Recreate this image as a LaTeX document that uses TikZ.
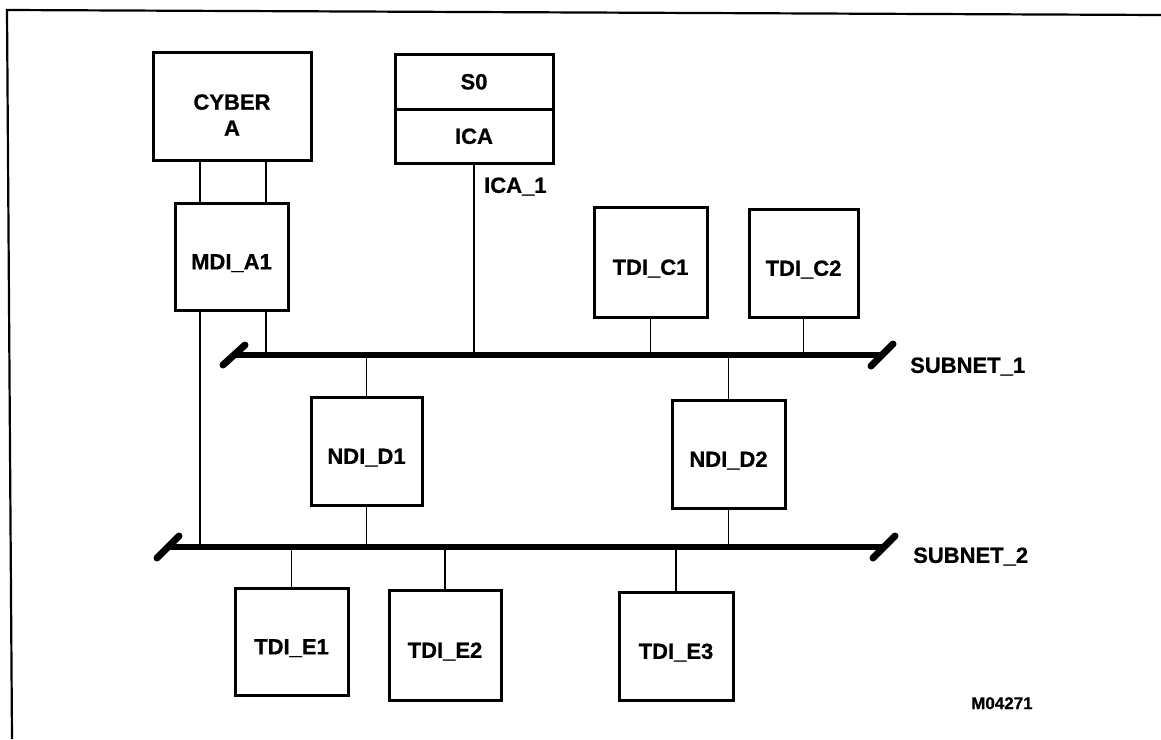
\documentclass[tikz,border=0pt]{standalone}
\usepackage{fontspec}
\setmainfont{Liberation Sans}[BoldFeatures={FakeBold=0.8}]
\usetikzlibrary{calc}
\begin{document}
\begin{tikzpicture}[x=1pt,y=-1pt,
  lbl/.style={font=\fontsize{22}{26}\selectfont\bfseries, inner sep=0pt},
  sidelbl/.style={lbl, anchor=west, text height=15.7pt, text depth=0pt},
  box/.style={draw, line width=3pt, inner sep=0pt, font=\fontsize{22}{26}\selectfont\bfseries, text height=25.7pt, text depth=0pt},
  wire/.style={line width=1.8pt},
  bus/.style={line width=5.5pt},
  slash/.style={line width=7pt, line cap=round},
  frame/.style={line width=2.2pt}]
\useasboundingbox (0,0) rectangle (1161,739);

% frame
\coordinate (fTL) at (7,10);
\coordinate (fTR) at (1161,15);
\coordinate (fBL) at (12,739);
\draw[frame] (fTR) -- (fTL) -- (fBL);

% boxes
\node[box, minimum width=158pt, minimum height=108pt] (cyber) at (232,106) {};
\node[lbl, align=center] (cybertxt) at (232,115) {CYBER\\A};
\node[box, minimum width=158pt, minimum height=55pt, text height=15.7pt] (s0) at (474,81.5) {S0};
\node[box, minimum width=158pt, minimum height=54pt, text height=15.7pt] (ica) at (474,136) {ICA};
\node[box, minimum width=113pt, minimum height=107pt] (mdi) at (231.5,256.5) {MDI\_A1};
\node[box, minimum width=113pt, minimum height=110pt] (c1) at (650.5,262) {TDI\_C1};
\node[box, minimum width=109pt, minimum height=108pt] (c2) at (803.5,263) {TDI\_C2};
\node[box, minimum width=111pt, minimum height=108pt] (d1) at (366.5,451) {NDI\_D1};
\node[box, minimum width=113pt, minimum height=108pt] (d2) at (728.5,454) {NDI\_D2};
\node[box, minimum width=113pt, minimum height=107pt] (e1) at (291.5,641.5) {TDI\_E1};
\node[box, minimum width=112pt, minimum height=110pt] (e2) at (445,645) {TDI\_E2};
\node[box, minimum width=114pt, minimum height=108pt] (e3) at (676,646) {TDI\_E3};

% labels
\node[sidelbl] (ica1) at (484,185) {ICA\_1};
\node[sidelbl] (sub1) at (910,365) {SUBNET\_1};
\node[sidelbl] (sub2) at (913,555) {SUBNET\_2};
\node[anchor=west, inner sep=0pt, font=\fontsize{17}{19}\selectfont\bfseries, text height=12.2pt, text depth=0pt] (code) at (971,703) {M04271};

% buses
\coordinate (b1l) at (234,355);
\coordinate (b1r) at (882,355);
\coordinate (b2l) at (168,547);
\coordinate (b2r) at (884,547);
\draw[bus] (b1l) -- (b1r);
\draw[bus] (b2l) -- (b2r);
\draw[slash] ($(b1l)+(-11,10)$) -- ($(b1l)+(11,-10)$);
\draw[slash] ($(b1r)+(-11,11)$) -- ($(b1r)+(11,-11)$);
\draw[slash] ($(b2l)+(-11,11)$) -- ($(b2l)+(11,-11)$);
\draw[slash] ($(b2r)+(-11,11)$) -- ($(b2r)+(11,-11)$);

% taps
\coordinate (tA) at (200,0);
\coordinate (tB) at (266,0);
\draw[wire] (cyber.south -| tA) -- (mdi.north -| tA);
\draw[wire] (cyber.south -| tB) -- (mdi.north -| tB);
\draw[wire] (mdi.south -| tB) -- (b1l -| tB);
\draw[wire] (mdi.south -| tA) -- (b2l -| tA);
\draw[wire] (ica.south) -- (ica.south |- b1l);
\draw[wire] (c1.south) -- (c1.south |- b1l);
\draw[wire] (c2.south) -- (c2.south |- b1l);
\draw[wire] (d1.north |- b1l) -- (d1.north);
\draw[wire] (d2.north |- b1l) -- (d2.north);
\draw[wire] (d1.south) -- (d1.south |- b2l);
\draw[wire] (d2.south) -- (d2.south |- b2l);
\draw[wire] (e1.north |- b2l) -- (e1.north);
\draw[wire] (e2.north |- b2l) -- (e2.north);
\draw[wire] (e3.north |- b2l) -- (e3.north);
\end{tikzpicture}
\end{document}
